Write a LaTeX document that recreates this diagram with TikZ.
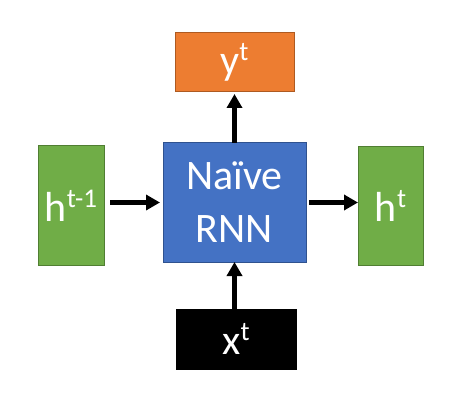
\documentclass[tikz,border=0pt]{standalone}
\usepackage{fontspec}
\setmainfont{Carlito}
\usepackage{tikz}
\usetikzlibrary{positioning,arrows.meta}
\definecolor{rnnblue}{HTML}{4472C4}
\definecolor{rnnline}{HTML}{2F528F}
\definecolor{outorange}{HTML}{ED7D31}
\definecolor{outline}{HTML}{AE5A21}
\definecolor{hgreen}{HTML}{70AD47}
\definecolor{hline}{HTML}{507E32}
\newcommand{\sups}[1]{\raisebox{0.33em}{\fontsize{27}{27}\selectfont #1}}

\begin{document}
\begin{tikzpicture}[
  box/.style={draw, line width=1pt, outer sep=0pt, inner sep=0pt,
              text=white, align=center,
              font=\fontsize{42}{53}\selectfont},
  arr/.style={-{Triangle[length=14pt,width=15pt]}, line width=4.5pt}]
  \useasboundingbox (0,0) rectangle (464pt,-404pt);
  \node[box, fill=rnnblue, draw=rnnline, minimum width=143pt,
        minimum height=119pt] (rnn) at (234.5pt,-202.5pt) {Naïve\\RNN};
  \node[box, fill=outorange, draw=outline, minimum width=119pt,
        minimum height=59pt, above=51pt of rnn] (yt) {y\sups{t}};
  \node[box, fill=hgreen, draw=hline, minimum width=66pt,
        minimum height=119pt, left=59pt of rnn, yshift=-3pt] (hprev) {h\sups{t-1}};
  \node[box, fill=hgreen, draw=hline, minimum width=65pt,
        minimum height=118pt, right=52pt of rnn, yshift=-3.5pt] (hnext) {h\sups{t}};
  \node[box, fill=black, draw=black, minimum width=120pt,
        minimum height=60pt, below=47pt of rnn, xshift=1.5pt] (xt) {x\sups{t}};
  \draw[arr, shorten <=6pt, shorten >=3pt] (hprev.east |- rnn.west) -- (rnn.west);
  \draw[arr, shorten <=3pt] (rnn.east) -- (rnn.east -| hnext.west);
  \draw[arr, shorten >=2pt] (rnn.north) -- (rnn.north |- yt.south);
  \draw[arr] (xt.north -| rnn.south) -- (rnn.south);
\end{tikzpicture}
\end{document}
